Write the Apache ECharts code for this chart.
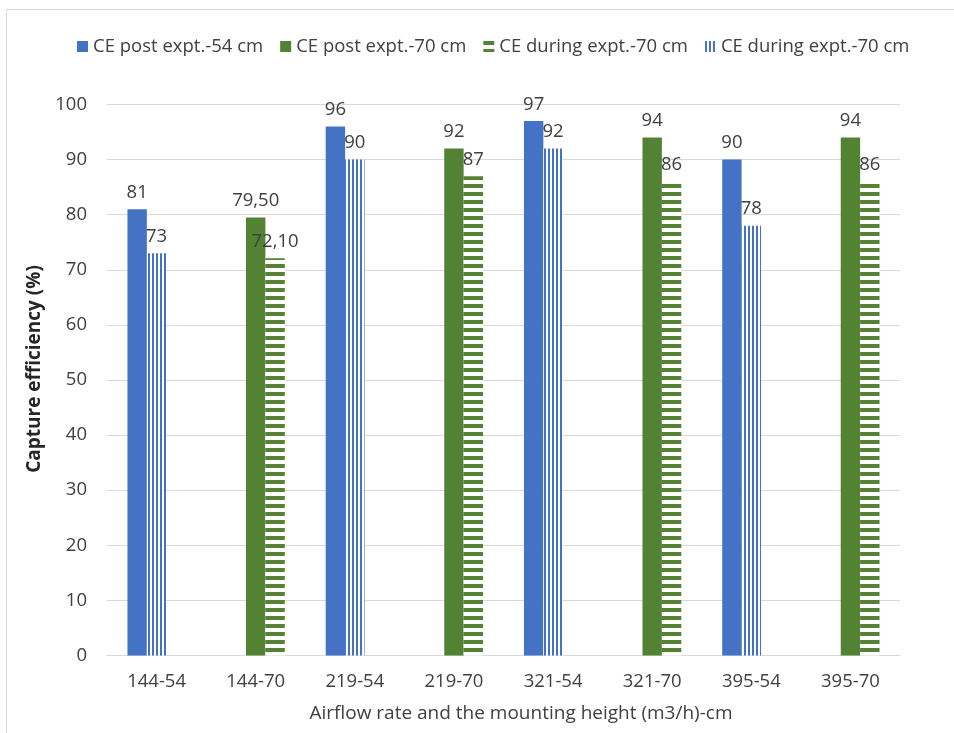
<!DOCTYPE html>
<html>
<head>
<meta charset="utf-8">
<script src="https://cdn.jsdelivr.net/npm/echarts@6/dist/echarts.min.js"></script>
<style>
  html, body { margin: 0; padding: 0; background: #fff; }
  #chart { width: 954px; height: 733px; }
</style>
</head>
<body>
<div id="chart"></div>
<script>
// Capture efficiency per airflow rate / mounting height combination
const categories = ['144-54', '144-70', '219-54', '219-70', '321-54', '321-70', '395-54', '395-70'];
const postExpt54 = [81, null, 96, null, 97, null, 90, null];
const postExpt70 = [null, 79.5, null, 92, null, 94, null, 94];
const duringExpt70 = [null, 72.1, null, 87, null, 86, null, 86];
const duringExpt54 = [73, null, 90, null, 92, null, 78, null];

const seriesNames = ['CE post expt.-54 cm', 'CE post expt.-70 cm', 'CE during expt.-70 cm', 'CE during expt.-54 cm'];
const legendLabels = ['CE post expt.-54 cm', 'CE post expt.-70 cm', 'CE during expt.-70 cm', 'CE during expt.-70 cm'];

const BLUE = '#4472C4';
const GREEN = '#548235';
const FONT = '"Open Sans", Lato, sans-serif';
const FS = 18.5;
const TEXT = '#404040';

// striped fills for the "during" bars
function stripePattern(color, vertical) {
  const c = document.createElement('canvas');
  const ctx = c.getContext('2d');
  if (vertical) {
    c.width = 4; c.height = 4;
    ctx.fillStyle = '#fff'; ctx.fillRect(0, 0, 4, 4);
    ctx.fillStyle = color; ctx.fillRect(0, 0, 2, 4);
  } else {
    c.width = 8; c.height = 8;
    ctx.fillStyle = '#fff'; ctx.fillRect(0, 0, 8, 8);
    ctx.fillStyle = color; ctx.fillRect(0, 0, 8, 4);
  }
  return { image: c, repeat: 'repeat' };
}

function fmt(p) {
  const v = p.value;
  if (v == null) return '';
  return Number.isInteger(v) ? String(v) : v.toFixed(2).replace('.', ',');
}

const label = {
  show: true, position: 'top', distance: 7,
  color: TEXT, fontFamily: FONT, fontSize: FS, formatter: fmt
};
const BAR_W = 19.4;

const chart = echarts.init(document.getElementById('chart'), null, { renderer: 'canvas' });
chart.setOption({
  backgroundColor: '#fff',
  animation: false,
  textStyle: { fontFamily: FONT },
  graphic: [
    { type: 'rect', shape: { x: 6.5, y: 9.5, width: 1200, height: 1200 },
      style: { fill: 'none', stroke: '#d9d9d9', lineWidth: 1 }, silent: true },
    { type: 'text', x: 521, y: 714,
      style: { text: 'Airflow rate and the mounting height (m3/h)-cm', fill: TEXT,
               font: '19px ' + FONT, align: 'center', verticalAlign: 'middle' } },
    { type: 'text', x: 35, y: 369, rotation: Math.PI / 2,
      style: { text: 'Capture efficiency (%)', fill: '#262626',
               font: 'bold 19px ' + FONT, align: 'center', verticalAlign: 'middle' } }
  ],
  legend: {
    left: 72, top: 32,
    itemWidth: 11, itemHeight: 11, itemGap: 17,
    icon: 'rect',
    data: seriesNames,
    formatter: name => legendLabels[seriesNames.indexOf(name)],
    textStyle: { color: TEXT, fontFamily: FONT, fontSize: FS }
  },
  grid: { left: 107, right: 54, top: 104.5, bottom: 77.5, outerBoundsMode: 'none' },
  xAxis: {
    type: 'category', data: categories,
    axisLine: { lineStyle: { color: '#d9d9d9', width: 1 } },
    axisTick: { show: false },
    axisLabel: { color: TEXT, fontFamily: FONT, fontSize: FS, margin: 17 }
  },
  yAxis: {
    type: 'value', min: 0, max: 100, interval: 10,
    axisLine: { show: false }, axisTick: { show: false },
    splitLine: { lineStyle: { color: '#d9d9d9', width: 1 } },
    axisLabel: { color: TEXT, fontFamily: FONT, fontSize: FS, margin: 20 }
  },
  series: [
    { name: seriesNames[0], type: 'bar', data: postExpt54, barWidth: BAR_W,
      itemStyle: { color: BLUE }, label },
    { name: seriesNames[1], type: 'bar', data: postExpt70, barWidth: BAR_W, stack: 'mid',
      itemStyle: { color: GREEN }, label },
    { name: seriesNames[2], type: 'bar', data: duringExpt70, barWidth: BAR_W,
      itemStyle: { color: stripePattern(GREEN, false) }, label },
    { name: seriesNames[3], type: 'bar', data: duringExpt54, barWidth: BAR_W, stack: 'mid',
      barGap: '0%',
      itemStyle: { color: stripePattern(BLUE, true) }, label }
  ]
});
</script>
</body>
</html>
